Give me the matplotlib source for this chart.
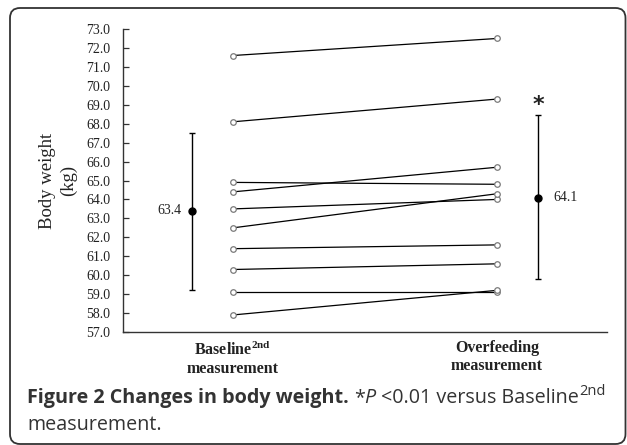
import numpy as np
import matplotlib
matplotlib.use("Agg")
import matplotlib.pyplot as plt
import matplotlib.patches as mpatches
from matplotlib.transforms import IdentityTransform

# data
groups = ["Baseline$^{\\mathbf{2nd}}$\nmeasurement", "Overfeeding\nmeasurement"]
baseline = [71.6, 68.1, 64.9, 64.4, 63.5, 62.5, 61.4, 60.3, 59.1, 57.9]
overfeeding = [72.5, 69.3, 64.8, 65.7, 64.0, 64.3, 61.6, 60.6, 59.1, 59.2]
means = [63.4, 64.1]
upper = [67.5, 68.45]
lower = [59.2, 59.8]
yticks = np.arange(57.0, 73.5, 1.0)

W, H = 627, 445
plt.rcParams["mathtext.fontset"] = "custom"
plt.rcParams["mathtext.bf"] = "Liberation Serif:bold"
plt.rcParams["mathtext.rm"] = "Liberation Serif"

fig = plt.figure(figsize=(W / 100, H / 100), dpi=100)
ax = fig.add_axes([123 / W, 1 - 332 / H, (607 - 123) / W, (332 - 29) / H])

serif = "Liberation Serif"
ink = "#222222"

# individual subjects
for b, o in zip(baseline, overfeeding):
    ax.plot([1, 2], [b, o], color="black", lw=0.9, zorder=2)
    ax.plot([1, 2], [b, o], ls="none", marker="o", ms=4, mfc="white",
            mec="#7a7a7a", mew=0.9, zorder=3)

# group mean with range bars
xe = [1 - 0.155, 2 + 0.155]
for i in range(2):
    yerr = [[means[i] - lower[i]], [upper[i] - means[i]]]
    ax.errorbar([xe[i]], [means[i]], yerr=yerr, fmt="o", color="black",
                ms=5, lw=1, capsize=2.5, capthick=1, zorder=4)

ax.text(xe[0] - 0.04, means[0], "%.1f" % means[0], ha="right", va="center",
        fontsize=10, family=serif, color=ink)
ax.text(xe[1] + 0.06, means[1], "%.1f" % means[1], ha="left", va="center",
        fontsize=10, family=serif, color=ink)
ax.text(xe[1], upper[1] + 0.02, "*", ha="center", va="bottom",
        fontsize=16, family="DejaVu Sans", fontweight="bold", color=ink)

ax.set_xlim(1 - 110 / 264, 2 + 110 / 264)
ax.set_ylim(57, 73)
ax.set_yticks(yticks)
ax.set_yticklabels(["%.1f" % v for v in yticks], family=serif, fontsize=10, color=ink)
ax.tick_params(axis="y", direction="in", length=4, width=0.9, color="#333333", pad=9)
ax.set_xticks([1, 2])
ax.set_xticklabels(groups, family=serif, fontsize=11.5, fontweight="bold",
                   color=ink, linespacing=1.15)
ax.tick_params(axis="x", length=0, pad=6)
for s in ["top", "right"]:
    ax.spines[s].set_visible(False)
for s in ["left", "bottom"]:
    ax.spines[s].set_color("#333333")
    ax.spines[s].set_linewidth(1)

ax.set_ylabel("Body weight\n(kg)", family=serif, fontsize=13.5, color=ink,
              linespacing=1.25, labelpad=7)

# rounded frame around figure and caption
frame = mpatches.FancyBboxPatch((10, 1), 615.5, 436,
                                boxstyle="round,pad=0,rounding_size=10",
                                transform=IdentityTransform(), fill=False,
                                ec="#333333", lw=1.3)
fig.patches.append(frame)

# caption, built piece by piece
r = fig.canvas.get_renderer()
cap = "#333333"
cfont = "Open Sans"


def piece(x, y, s, size=14.2, **kw):
    t = fig.text(x / W, 1 - y / H, s, fontsize=size, family=cfont, color=cap,
                 ha="left", va="baseline", **kw)
    return t, t.get_window_extent(r).x1


t, x = piece(27, 403, "Figure 2 Changes in body weight.", fontweight="bold")
t, x = piece(x + 5, 403, "*")
t, x = piece(x, 403, "P", style="italic")
t, x = piece(x + 5, 403, "<0.01 versus Baseline")
t, x = piece(x + 1, 395, "2nd", size=10.5)
piece(27, 430, "measurement.")

fig.savefig("out.png", dpi=100)
